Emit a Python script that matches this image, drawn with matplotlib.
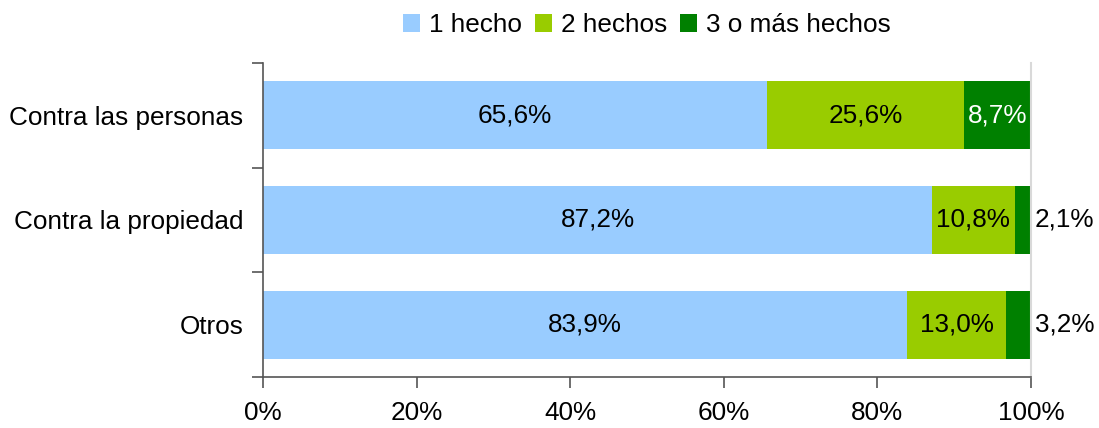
import matplotlib.pyplot as plt
import numpy as np

plt.rcParams['font.family'] = ['Liberation Sans', 'DejaVu Sans']

categorias = ["Contra las personas", "Contra la propiedad", "Otros"]
series = ["1 hecho", "2 hechos", "3 o más hechos"]
un_hecho = [65.6, 87.2, 83.9]
dos_hechos = [25.6, 10.8, 13.0]
tres_o_mas = [8.7, 2.1, 3.2]
colores = ["#99CCFF", "#99CC00", "#008000"]

datos = np.array([un_hecho, dos_hechos, tres_o_mas])
totales = datos.sum(axis=0)
partes = datos / totales * 100

fs = 18.8

fig = plt.figure(figsize=(10.99, 4.28), dpi=100)
ax = fig.add_axes([0.2393, 0.1192, 0.6988, 0.7336])

y = np.arange(len(categorias))
izquierda = np.zeros(len(categorias))
for i in range(len(series)):
    ax.barh(y, partes[i], left=izquierda, height=0.65, color=colores[i],
            label=series[i], zorder=2)
    for j in range(len(categorias)):
        texto = f"{datos[i, j]:.1f}%".replace(".", ",")
        centro = izquierda[j] + partes[i, j] / 2
        if partes[i, j] < 5:
            ax.text(100.5, y[j], texto, ha="left", va="center", fontsize=fs,
                    color="black", clip_on=False)
        else:
            color_txt = "white" if i == 2 else "black"
            ax.text(centro, y[j], texto, ha="center", va="center",
                    fontsize=fs, color=color_txt)
    izquierda += partes[i]

ax.set_xlim(0, 100)
ax.set_ylim(len(categorias) - 0.5, -0.5)
ax.set_xticks([0, 20, 40, 60, 80, 100])
ax.set_xticklabels(["0%", "20%", "40%", "60%", "80%", "100%"])
ax.set_yticks(y)
ax.set_yticklabels(categorias)
ax.set_yticks([-0.5, 0.5, 1.5, 2.5], minor=True)
ax.tick_params(axis="y", which="major", length=0, pad=14, labelsize=fs)
ax.tick_params(axis="y", which="minor", length=8, width=1.2, color="#555555")
ax.tick_params(axis="x", length=8, width=1.2, color="#555555", pad=9,
               labelsize=fs)

ax.spines["top"].set_visible(False)
ax.spines["right"].set_color("#d9d9d9")
ax.spines["right"].set_linewidth(1.5)
ax.spines["left"].set_color("#555555")
ax.spines["bottom"].set_color("#555555")
ax.spines["left"].set_linewidth(1.2)
ax.spines["bottom"].set_linewidth(1.2)

ax.legend(loc="center", bbox_to_anchor=(0.5, 1.12), ncol=3,
          frameon=False, fontsize=fs, handlelength=0.65, handleheight=0.65,
          handletextpad=0.35, columnspacing=0.5, borderaxespad=0)

fig.savefig("out.png", dpi=100)
